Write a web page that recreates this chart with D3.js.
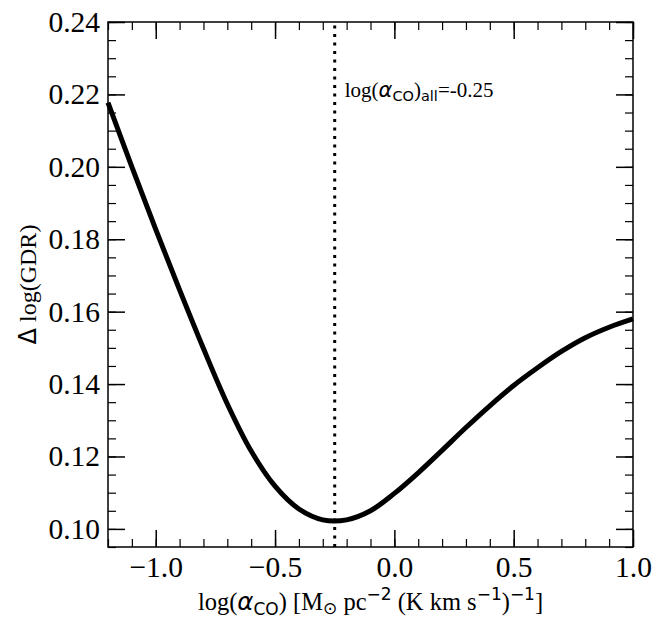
<!DOCTYPE html>
<html>
<head>
<meta charset="utf-8">
<script src="https://cdn.jsdelivr.net/npm/d3@7"></script>
<style>
  body { margin: 0; background: #fff; }
  text, .serif { font-family: "Liberation Serif", "DejaVu Serif", serif; fill: #000; }
  .sans { font-family: "DejaVu Sans", sans-serif; }
</style>
</head>
<body>
<div id="chart"></div>
<script>
var width = 664;
var height = 633;

// curve
var alphaCO = [-1.2, -1.1, -1.0, -0.9, -0.8, -0.7, -0.6, -0.5, -0.4, -0.3, -0.2,
               -0.1, 0.0, 0.1, 0.2, 0.3, 0.4, 0.5, 0.6, 0.7, 0.8, 0.9, 1.0];
var dGDR = [0.2177, 0.2000, 0.1827, 0.1660, 0.1498, 0.1345, 0.1215, 0.1118, 0.1055,
            0.1025, 0.1025, 0.1050, 0.1098, 0.1155, 0.1217, 0.1280, 0.1340,
            0.1396, 0.1445, 0.1490, 0.1528, 0.1557, 0.1580];
var bestAlpha = -0.25;

var xMajor = [-1.0, -0.5, 0.0, 0.5, 1.0];
var xMinor = d3.range(-12, 11).map(function (d) { return d / 10; });
var yMajor = [0.10, 0.12, 0.14, 0.16, 0.18, 0.20, 0.22, 0.24];
var yMinor = d3.range(19, 49).map(function (d) { return d * 0.005; });

var margin = {left: 108, right: 31, top: 22, bottom: 86};

var svg = d3.select("#chart")
  .append("svg")
  .attr("width", width)
  .attr("height", height);

var x = d3.scaleLinear().domain([-1.2, 1.0]).range([margin.left, width - margin.right]);
var y = d3.scaleLinear().domain([0.095, 0.24]).range([height - margin.bottom, margin.top]);

var x0 = x.range()[0], x1 = x.range()[1];
var y0 = y.range()[0], y1 = y.range()[1];

// dotted line at the best value
svg.append("line")
  .attr("x1", x(bestAlpha)).attr("x2", x(bestAlpha))
  .attr("y1", y0).attr("y2", y1)
  .attr("stroke", "#000")
  .attr("stroke-width", 3)
  .attr("stroke-dasharray", "3,5.5");

// the curve
var line = d3.line()
  .x(function (d, i) { return x(alphaCO[i]); })
  .y(function (d) { return y(d); })
  .curve(d3.curveCatmullRom);

svg.append("path")
  .datum(dGDR)
  .attr("d", line)
  .attr("fill", "none")
  .attr("stroke", "#000")
  .attr("stroke-width", 5);

// axes, ticks pointing inward
function styleAxis(g, w) {
  g.select(".domain").remove();
  g.selectAll(".tick line").attr("stroke", "#000").attr("stroke-width", w);
  g.selectAll("text").style("font-size", "29.5px").attr("fill", "#000");
}

var fmtX = d3.format(".1f");
var fmtY = d3.format(".2f");

svg.append("g").attr("transform", "translate(0," + y0 + ")")
  .call(d3.axisBottom(x).tickValues(xMinor).tickSize(-8).tickFormat(""))
  .call(styleAxis, 1.2);
svg.append("g").attr("transform", "translate(0," + y0 + ")")
  .call(d3.axisBottom(x).tickValues(xMajor).tickSize(-17).tickPadding(9).tickFormat(fmtX))
  .call(styleAxis, 1.5);
svg.append("g").attr("transform", "translate(0," + y1 + ")")
  .call(d3.axisTop(x).tickValues(xMinor).tickSize(-8).tickFormat(""))
  .call(styleAxis, 1.2);
svg.append("g").attr("transform", "translate(0," + y1 + ")")
  .call(d3.axisTop(x).tickValues(xMajor).tickSize(-17).tickFormat(""))
  .call(styleAxis, 1.5);

svg.append("g").attr("transform", "translate(" + x0 + ",0)")
  .call(d3.axisLeft(y).tickValues(yMinor).tickSize(-8).tickFormat(""))
  .call(styleAxis, 1.2);
svg.append("g").attr("transform", "translate(" + x0 + ",0)")
  .call(d3.axisLeft(y).tickValues(yMajor).tickSize(-17).tickPadding(8).tickFormat(fmtY))
  .call(styleAxis, 1.5);
svg.append("g").attr("transform", "translate(" + x1 + ",0)")
  .call(d3.axisRight(y).tickValues(yMinor).tickSize(-8).tickFormat(""))
  .call(styleAxis, 1.2);
svg.append("g").attr("transform", "translate(" + x1 + ",0)")
  .call(d3.axisRight(y).tickValues(yMajor).tickSize(-17).tickFormat(""))
  .call(styleAxis, 1.5);

// frame
svg.append("rect")
  .attr("x", x0).attr("y", y1)
  .attr("width", x1 - x0).attr("height", y0 - y1)
  .attr("fill", "none")
  .attr("stroke", "#000")
  .attr("stroke-width", 1.5);

// annotation
var ann = svg.append("text")
  .attr("x", x(bestAlpha) + 10)
  .attr("y", 97)
  .style("font-size", "21px");
ann.append("tspan").attr("class", "serif").text("log(");
ann.append("tspan").attr("class", "sans").style("font-style", "italic").text("α");
ann.append("tspan").attr("class", "sans").attr("dy", 4).style("font-size", "14.5px").text("CO");
ann.append("tspan").attr("class", "serif").attr("dy", -4).text(")");
ann.append("tspan").attr("class", "sans").attr("dy", 4).style("font-size", "14.5px").text("all");
ann.append("tspan").attr("class", "serif").attr("dy", -4).text("=-0.25");

// x title
var xt = svg.append("text")
  .attr("x", (x0 + x1) / 2)
  .attr("y", 610)
  .attr("text-anchor", "middle")
  .style("font-size", "24.5px");
xt.append("tspan").attr("class", "serif").text("log(");
xt.append("tspan").attr("class", "sans").style("font-style", "italic").text("α");
xt.append("tspan").attr("class", "sans").attr("dy", 5).style("font-size", "17px").text("CO");
xt.append("tspan").attr("class", "serif").attr("dy", -5).text(") [M");
xt.append("tspan").attr("class", "sans").attr("dy", 4).style("font-size", "17px").text("⊙");
xt.append("tspan").attr("class", "serif").attr("dy", -4).text(" pc");
xt.append("tspan").attr("class", "sans").attr("dy", -10).style("font-size", "17px").text("−2");
xt.append("tspan").attr("class", "serif").attr("dy", 10).text(" (K km s");
xt.append("tspan").attr("class", "sans").attr("dy", -10).style("font-size", "17px").text("−1");
xt.append("tspan").attr("class", "serif").attr("dy", 10).text(")");
xt.append("tspan").attr("class", "sans").attr("dy", -10).style("font-size", "17px").text("−1");
xt.append("tspan").attr("class", "serif").attr("dy", 10).text("]");

// y title
var yt = svg.append("text")
  .attr("transform", "translate(36," + (y0 + y1) / 2 + ") rotate(-90)")
  .attr("text-anchor", "middle")
  .style("font-size", "24px");
yt.append("tspan").attr("class", "sans").text("Δ");
yt.append("tspan").attr("class", "serif").text(" log(GDR)");
</script>
</body>
</html>
